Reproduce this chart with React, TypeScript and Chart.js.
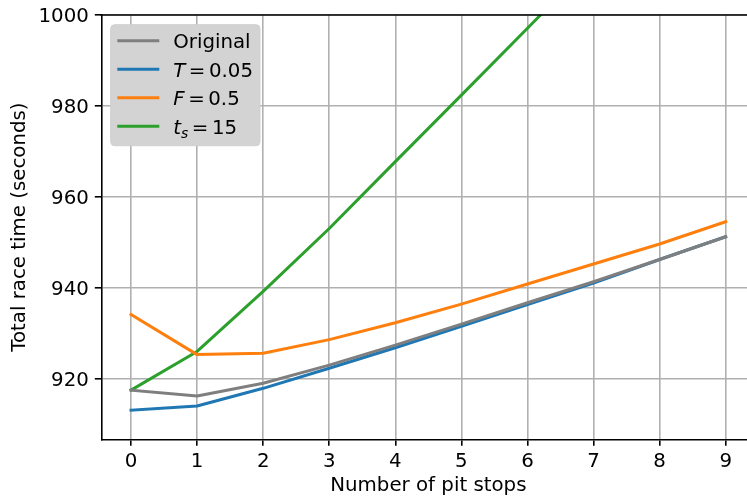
import { useEffect, useRef } from "react";
import { Chart, registerables } from "chart.js";

Chart.register(...registerables);

// ---- data ----
const pitStops = [0, 1, 2, 3, 4, 5, 6, 7, 8, 9];
const originalTimes = [917.6, 916.3, 919.1, 923.1, 927.5, 932.1, 936.8, 941.4, 946.3, 951.3];
const tyreTimes = [913.2, 914.1, 918.0, 922.4, 926.9, 931.6, 936.4, 941.1, 946.3, 951.3];
const fuelTimes = [934.2, 925.4, 925.7, 928.7, 932.4, 936.5, 940.9, 945.3, 949.7, 954.6];
const stopTimes = [917.6, 926.1, 939.3, 953.1, 967.8, 982.4, 997.1, 1011.8, 1026.6, 1041.5];
const seriesLabels = ["Original", "$T=0.05$", "$F=0.5$", "$t_s=15$"];
const seriesColors = ["#7f7f7f", "#1f77b4", "#ff7f0e", "#2ca02c"];
const xTicks = [0, 1, 2, 3, 4, 5, 6, 7, 8, 9];
const yTicks = [920, 940, 960, 980, 1000];
const xTitle = "Number of pit stops";
const yTitle = "Total race time (seconds)";

const FAMILY = "'DejaVu Sans'";
const FS = 19.8;

function drawRich(ctx: CanvasRenderingContext2D, text: string, x: number, y: number, size: number) {
  ctx.textBaseline = "alphabetic";
  ctx.textAlign = "left";
  if (text.indexOf("$") < 0) {
    ctx.font = `${size}px ${FAMILY}`;
    ctx.fillText(text, x, y);
    return;
  }
  const parts = text.split("$");
  let cx = x;
  parts.forEach((part, idx) => {
    const math = idx % 2 === 1;
    if (!math) {
      if (part) {
        ctx.font = `${size}px ${FAMILY}`;
        ctx.fillText(part, cx, y);
        cx += ctx.measureText(part).width;
      }
      return;
    }
    let i = 0;
    while (i < part.length) {
      const ch = part[i];
      if (ch === "_") {
        const sub = part[i + 1];
        const ss = size * 0.7;
        ctx.font = /[A-Za-z]/.test(sub) ? `italic ${ss}px ${FAMILY}` : `${ss}px ${FAMILY}`;
        ctx.fillText(sub, cx, y + size * 0.2);
        cx += ctx.measureText(sub).width;
        i += 2;
        continue;
      }
      if (ch === "=") {
        cx += size * 0.18;
        ctx.font = `${size}px ${FAMILY}`;
        ctx.fillText("=", cx, y);
        cx += ctx.measureText("=").width + size * 0.18;
        i += 1;
        continue;
      }
      ctx.font = /[A-Za-z]/.test(ch) ? `italic ${size}px ${FAMILY}` : `${size}px ${FAMILY}`;
      ctx.fillText(ch, cx, y);
      cx += ctx.measureText(ch).width;
      i += 1;
    }
  });
}

const framePlugin = {
  id: "frameAndLegend",
  afterDraw(chart: any) {
    const { ctx, chartArea } = chart;
    ctx.save();
    // top spine
    ctx.strokeStyle = "#000";
    ctx.lineWidth = 1.6;
    ctx.beginPath();
    ctx.moveTo(chartArea.left - 0.8, chartArea.top);
    ctx.lineTo(chartArea.right + 0.8, chartArea.top);
    ctx.stroke();

    // legend
    const bx = chartArea.left + 9.4;
    const by = chartArea.top + 9.7;
    const bw = 149.3;
    const bh = 121;
    ctx.fillStyle = "#d3d3d3";
    ctx.strokeStyle = "#cfcfcf";
    ctx.lineWidth = 1;
    ctx.beginPath();
    (ctx as any).roundRect(bx, by, bw, bh, 4);
    ctx.fill();
    ctx.stroke();

    const rowStart = by + 16;
    const rowGap = 28.5;
    seriesLabels.forEach((label, i) => {
      const ry = rowStart + i * rowGap;
      ctx.strokeStyle = seriesColors[i];
      ctx.lineWidth = 3;
      ctx.lineCap = "butt";
      ctx.beginPath();
      ctx.moveTo(bx + 6.6, ry);
      ctx.lineTo(bx + 48.6, ry);
      ctx.stroke();
      ctx.fillStyle = "#000";
      drawRich(ctx, label, bx + 62.5, ry + 7.6, FS);
    });
    ctx.restore();
  },
};

export default function App() {
  const ref = useRef<HTMLCanvasElement | null>(null);

  useEffect(() => {
    document.body.style.margin = "0";
    const canvas = ref.current;
    if (!canvas) return;
    const series = [originalTimes, tyreTimes, fuelTimes, stopTimes];
    const font = { family: FAMILY, size: FS };
    const chart = new Chart(canvas, {
      type: "line",
      data: {
        datasets: series.map((vals, i) => ({
          label: seriesLabels[i],
          data: pitStops.map((x, j) => ({ x, y: vals[j] })),
          borderColor: seriesColors[i],
          backgroundColor: seriesColors[i],
          borderWidth: 3,
          pointRadius: 0,
          tension: 0,
          borderJoinStyle: "round" as const,
          borderCapStyle: "square" as const,
          clip: 0,
          fill: false,
        })),
      },
      options: {
        animation: false,
        responsive: false,
        maintainAspectRatio: false,
        devicePixelRatio: 1,
        layout: { padding: { left: 0, right: 1.6, top: 15, bottom: 0 } },
        plugins: { legend: { display: false }, tooltip: { enabled: false } },
        scales: {
          x: {
            type: "linear",
            min: -0.45,
            max: 9.45,
            afterBuildTicks: (s: any) => {
              s.ticks = xTicks.map((v) => ({ value: v }));
            },
            afterFit: (s: any) => {
              s.height = 59.7;
              s.paddingLeft = 0;
              s.paddingRight = 0;
            },
            ticks: {
              font,
              color: "#000",
              padding: 3.7,
              maxRotation: 0,
              autoSkip: false,
              callback: (v: any) => String(v),
            },
            grid: { color: "#b0b0b0", lineWidth: 1.6, tickColor: "#000", tickLength: 6.5, tickWidth: 1.6 },
            border: { color: "#000", width: 1.6 },
            title: { display: true, text: xTitle, font, color: "#000", padding: { top: 0, bottom: 1 } },
          },
          y: {
            type: "linear",
            min: 906.8,
            max: 1000,
            afterBuildTicks: (s: any) => {
              s.ticks = yTicks.map((v) => ({ value: v }));
            },
            afterFit: (s: any) => {
              s.width = 101.3;
              s.paddingTop = 0;
              s.paddingBottom = 0;
            },
            ticks: {
              font,
              color: "#000",
              padding: 6,
              labelOffset: 1.5,
              autoSkip: false,
              callback: (v: any) => String(v),
            },
            grid: { color: "#b0b0b0", lineWidth: 1.6, tickColor: "#000", tickLength: 6.5, tickWidth: 1.6 },
            border: { color: "#000", width: 1.6 },
            title: { display: true, text: yTitle, font, color: "#000", padding: { top: 8, bottom: 0 } },
          },
        },
      },
      plugins: [framePlugin],
    } as any);
    return () => chart.destroy();
  }, []);

  return (
    <div style={{ width: 747, height: 499, overflow: "hidden", position: "relative", background: "#fff" }}>
      <canvas ref={ref} width={757} height={499} style={{ display: "block", width: 757, height: 499 }} />
    </div>
  );
}
